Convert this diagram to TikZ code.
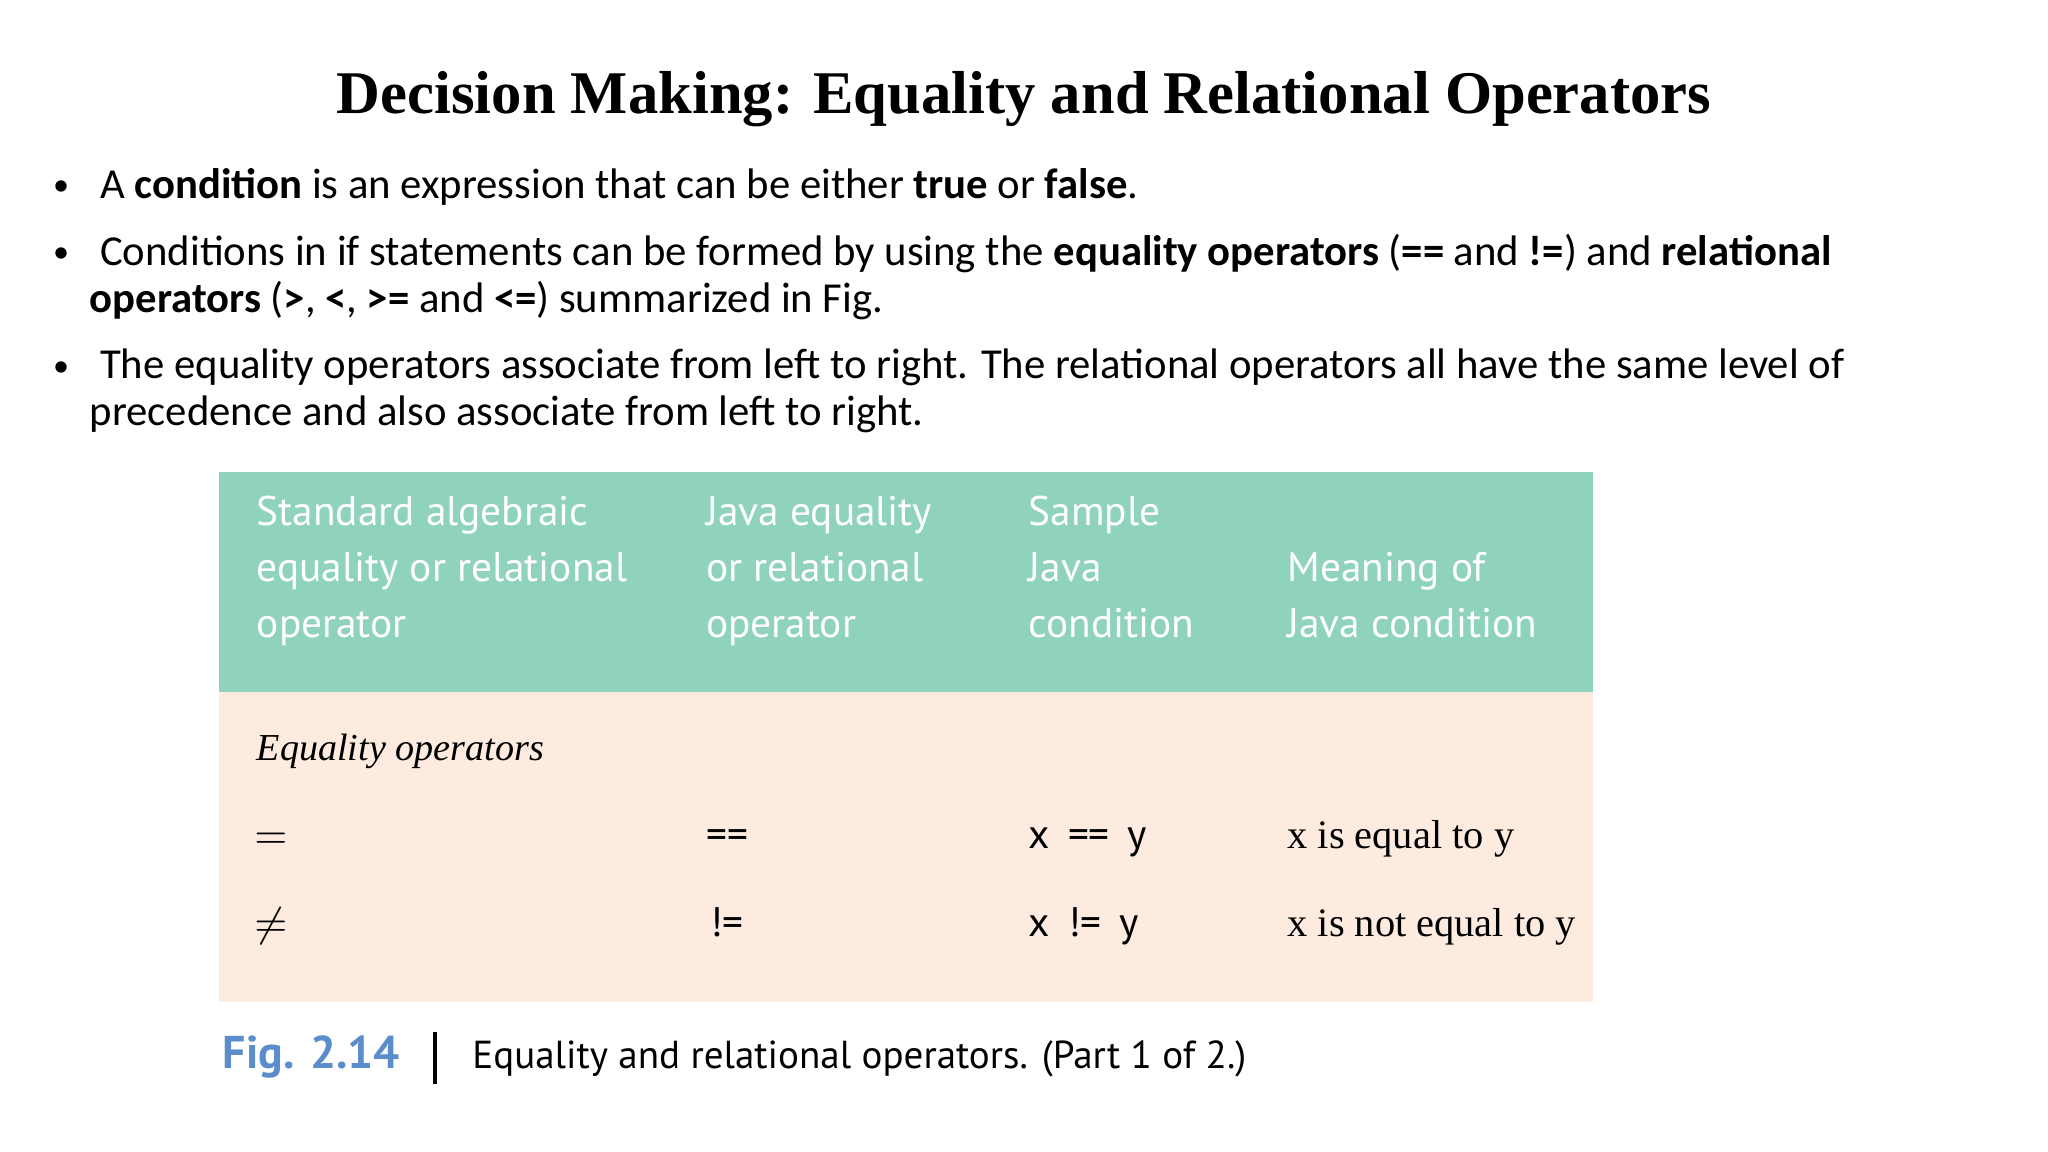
\documentclass[tikz,border=0pt]{standalone}
\usepackage{fontspec}
\setmainfont{Carlito}
\newfontfamily\ttl{Liberation Serif}
\newfontfamily\hdrb{PT Sans}
\newfontfamily\srf{Liberation Serif}
\definecolor{teal}{HTML}{8FD3BE}
\definecolor{peach}{HTML}{FDEBE0}
\definecolor{figblue}{HTML}{5B8CCB}
\begin{document}
\begin{tikzpicture}[x=0.01cm,y=-0.01cm,
  bul/.style={anchor=base west,inner sep=0,font=\fontsize{9.3}{11}\selectfont},
  dot/.style={anchor=base west,inner sep=0,font=\fontsize{7}{8}\selectfont},
  hd/.style={anchor=base west,inner sep=0,text=white,align=left,font=\hdrb\fontsize{9}{11}\selectfont},
  cell/.style={anchor=base west,inner sep=0,font=\srf\fontsize{8.8}{11}\selectfont},
  mono/.style={anchor=base west,inner sep=0,font=\hdrb\fontsize{9}{11}\selectfont}]
\useasboundingbox[fill=white] (0,0) rectangle (1568,882);
\node[anchor=base,inner sep=0,font=\ttl\bfseries\fontsize{13.2}{16}\selectfont] (title) at (784,87) {Decision Making: Equality and Relational Operators};
\node[dot] (b1d) at (40,150) {•};
\node[bul] (b1) at (76,152) {A \textbf{condition} is an expression that can be either \textbf{true} or \textbf{false}.};
\node[dot] (b2d) at (40,201) {•};
\node[bul] (b2) at (76,203) {Conditions in if statements can be formed by using the \textbf{equality operators} (\textbf{==} and \textbf{!=}) and \textbf{relational}};
\node[bul] (b2b) at (68,239) {\textbf{operators} (\textbf{>}, \textbf{<}, \textbf{>=} and \textbf{<=}) summarized in Fig.};
\node[dot] (b3d) at (40,288) {•};
\node[bul] (b3) at (76,290) {The equality operators associate from left to right. The relational operators all have the same level of};
\node[bul] (b3b) at (68,326) {precedence and also associate from left to right.};
\fill[teal] (168,361) rectangle (1220,530);
\fill[peach] (168,530) rectangle (1220,767);
\node[hd] (h1) at (196,402) {Standard algebraic};
\node[hd] at (196,445) {equality or relational};
\node[hd] at (196,488) {operator};
\node[hd] (h2) at (540,402) {Java equality};
\node[hd] at (540,445) {or relational};
\node[hd] at (540,488) {operator};
\node[hd] (h3) at (787,402) {Sample};
\node[hd] at (787,445) {Java};
\node[hd] at (787,488) {condition};
\node[hd] (h4) at (985,445) {Meaning of};
\node[hd] at (985,488) {Java condition};
\node[cell,font=\srf\itshape\fontsize{8.3}{11}\selectfont] (eq) at (196,582) {Equality operators};
\node[cell] (r1a) at (194,650) {$=$};
\node[mono] (r1b) at (540,650) {==};
\node[mono] (r1c) at (787,650) {x \,==\, y};
\node[cell] (r1d) at (985,650) {x is equal to y};
\node[cell] (r2a) at (194,717) {$\neq$};
\node[mono] (r2b) at (543,717) {!=};
\node[mono] (r2c) at (787,717) {x \,!=\, y};
\node[cell] (r2d) at (985,717) {x is not equal to y};
\node[anchor=base west,inner sep=0,text=figblue,font=\hdrb\bfseries\fontsize{10}{12}\selectfont] (fig) at (170,818) {Fig. 2.14};
\draw[line width=1pt] (333,790) -- (333,830);
\node[anchor=base west,inner sep=0,font=\hdrb\fontsize{8.5}{12}\selectfont] (cap) at (361,818) {Equality and relational operators. (Part 1 of 2.)};
\end{tikzpicture}
\end{document}
